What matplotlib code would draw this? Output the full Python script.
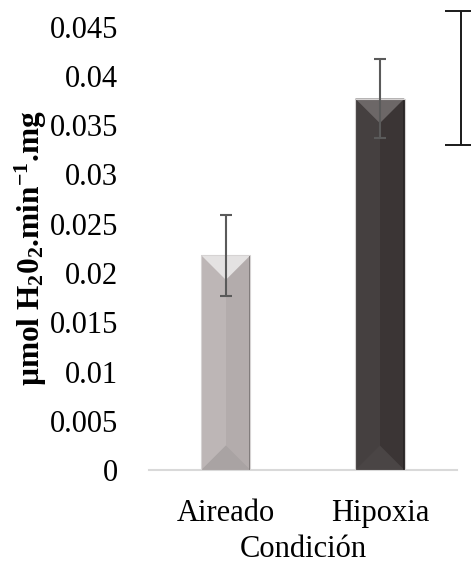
import matplotlib.pyplot as plt
from matplotlib.patches import Polygon, Rectangle

# --- DATA ---
condiciones = ["Aireado", "Hipoxia"]
actividad = [0.0218, 0.0377]
error = [0.0041, 0.0040]

# bracket on the right edge (partially cut off)
bracket_x = 1.53
bracket_val = 0.0398
bracket_err = 0.0068

yticks = [0, 0.005, 0.01, 0.015, 0.02, 0.025, 0.03, 0.035, 0.04, 0.045]
ytick_labels = ["0", "0.005", "0.01", "0.015", "0.02", "0.025", "0.03", "0.035", "0.04", "0.045"]

# face, left half, top bevel, bottom bevel, right edge
estilos = [
    ("#b3acac", "#bdb6b6", "#e4e2e2", "#a9a3a3", "#7d7878"),
    ("#3b3535", "#454040", "#6c6767", "#4a4545", "#2a2626"),
]

plt.rcParams["font.family"] = ["Liberation Serif", "DejaVu Serif"]
plt.rcParams["mathtext.fontset"] = "custom"
plt.rcParams["mathtext.rm"] = "Liberation Serif"
plt.rcParams["mathtext.bf"] = "Liberation Serif:bold"

fig = plt.figure(figsize=(4.71, 5.65), dpi=100)
ax = fig.add_axes([0.316, 0.168, 0.654, 0.785])

x = list(range(len(condiciones)))
ancho = 0.32
ax.set_xlim(-0.5, 1.5)
ax.set_ylim(0, 0.045)

# bevel depth: half of the bar width, converted to data units
p0 = ax.transData.transform((0, 0))
p1 = ax.transData.transform((ancho / 2, 0))
px_half = p1[0] - p0[0]
dy = ax.transData.inverted().transform((0, p0[1] + px_half))[1]

for xi, val, (cara, izq, sup, inf, borde) in zip(x, actividad, estilos):
    l, r = xi - ancho / 2, xi + ancho / 2
    ax.add_patch(Rectangle((l, 0), ancho, val, facecolor=cara, edgecolor="none", zorder=2))
    ax.add_patch(Rectangle((l, 0), ancho / 2, val, facecolor=izq, edgecolor="none", zorder=2))
    ax.add_patch(Polygon([(l, val), (r, val), (xi, val - dy)], closed=True,
                         facecolor=sup, edgecolor="none", zorder=3))
    ax.add_patch(Polygon([(l, 0), (r, 0), (xi, dy)], closed=True,
                         facecolor=inf, edgecolor="none", zorder=3))
    ax.add_patch(Rectangle((r - ancho * 0.04, 0), ancho * 0.04, val, facecolor=borde,
                           edgecolor="none", zorder=3))
    ax.add_patch(Rectangle((l, 0), ancho, val, facecolor="none", edgecolor="#d6d3d3",
                           linewidth=0.8, zorder=3))

ax.errorbar(x, actividad, yerr=error, fmt="none", ecolor="#5a5a5a",
            elinewidth=1.5, capsize=4.5, capthick=1.5, zorder=4)

ax.errorbar([bracket_x], [bracket_val], yerr=[bracket_err], fmt="none", ecolor="#1a1a1a",
            elinewidth=1.4, capsize=11.5, capthick=1.4, zorder=4, clip_on=False)

ax.set_xticks(x)
ax.set_xticklabels(condiciones, fontsize=22)
ax.set_yticks(yticks)
ax.set_yticklabels(ytick_labels, fontsize=22)
ax.tick_params(axis="both", length=0)
ax.tick_params(axis="y", pad=22)
ax.tick_params(axis="x", pad=21)

for s in ["top", "right", "left"]:
    ax.spines[s].set_visible(False)
ax.spines["bottom"].set_color("#d9d9d9")
ax.spines["bottom"].set_linewidth(1.5)

ax.set_xlabel("Condición", fontsize=22, labelpad=5)
ax.set_ylabel(r"µmol H$\mathbf{_2}$0$\mathbf{_2}$.min$\mathbf{^{-1}}$.mg",
              fontsize=22.5, fontweight="bold", labelpad=1)

fig.savefig("out.png", dpi=100)
